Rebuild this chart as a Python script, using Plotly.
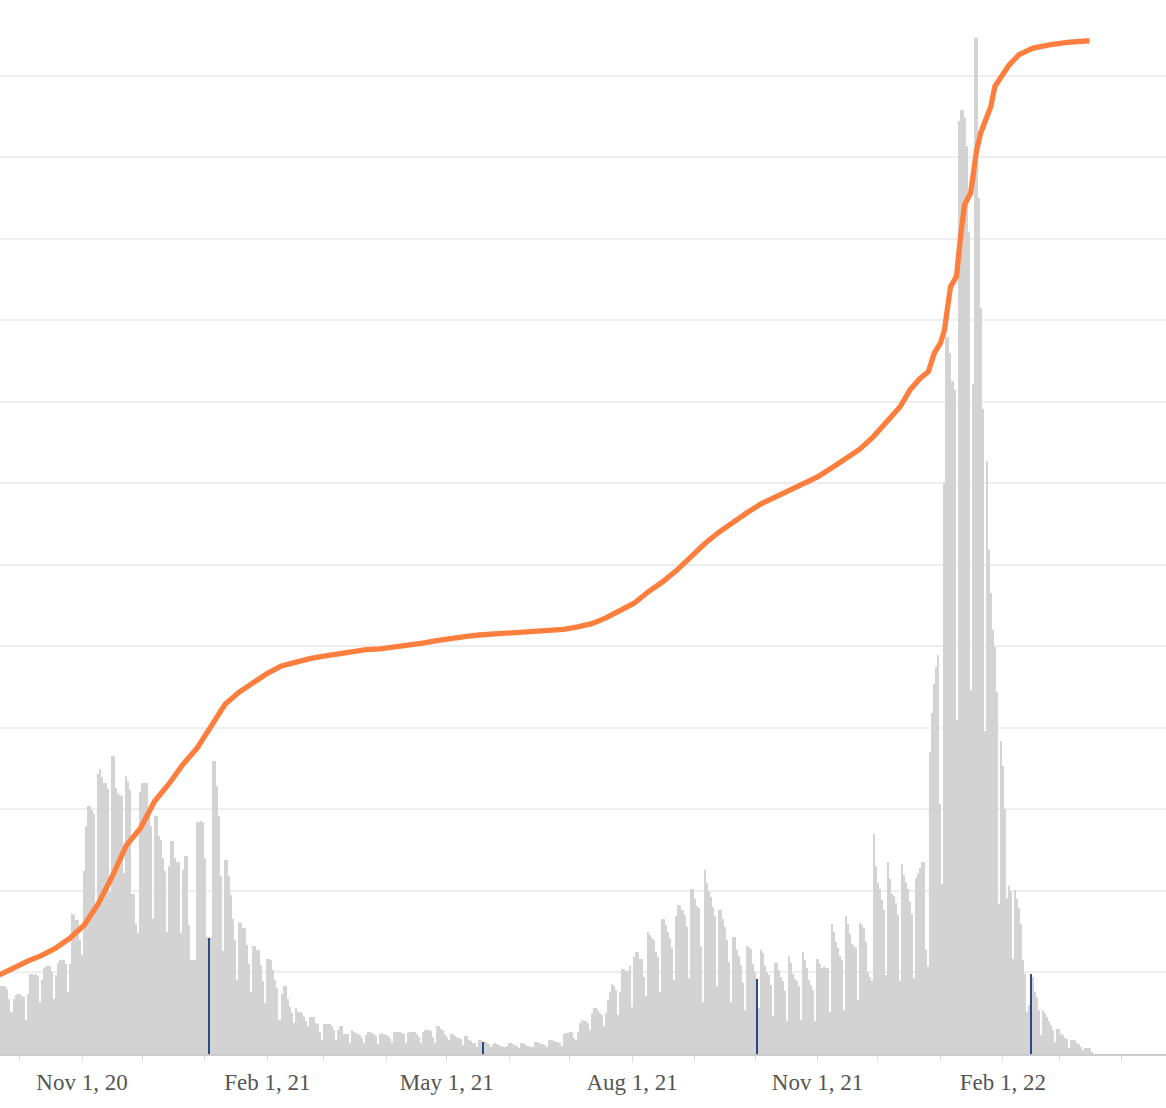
import pandas as pd
import plotly.graph_objects as go

START_DATE = "2020-09-21"

# daily reported values, one row per week (Mon..Sun), starting Mon Sep 21 2020
daily_values = [
    58, 83, 83, 83, 80, 68, 52,
    68, 72, 74, 74, 71, 70, 42,
    74, 98, 98, 97, 98, 96, 64,
    91, 105, 108, 108, 108, 100, 67,
    97, 112, 115, 115, 115, 110, 76,
    110, 172, 170, 164, 164, 140, 121,
    224, 280, 304, 304, 299, 295, 184,
    344, 350, 340, 333, 333, 325, 199,
    366, 366, 326, 320, 318, 316, 222,
    341, 335, 324, 196, 196, 160, 148,
    322, 333, 333, 333, 303, 280, 166,
    292, 292, 267, 262, 240, 224, 150,
    231, 261, 261, 241, 236, 236, 149,
    226, 243, 243, 158, 115, 115, 115,
    285, 285, 286, 284, 240, 144, 142,
    144, 359, 359, 329, 292, 218, 126,
    238, 238, 218, 195, 166, 140, 91,
    161, 161, 154, 154, 134, 110, 76,
    132, 132, 128, 128, 109, 90, 62,
    117, 117, 115, 103, 91, 81, 42,
    74, 83, 83, 68, 58, 50, 38,
    56, 52, 52, 50, 46, 40, 34,
    46, 46, 45, 38, 37, 27, 17,
    37, 37, 37, 37, 34, 30, 17,
    29, 34, 34, 25, 25, 25, 14,
    29, 27, 26, 25, 23, 20, 13,
    23, 27, 27, 26, 24, 22, 12,
    25, 26, 25, 23, 22, 20, 14,
    27, 27, 27, 27, 26, 24, 13,
    26, 27, 27, 27, 25, 21, 13,
    27, 29, 30, 29, 28, 21, 14,
    34, 34, 31, 29, 25, 21, 17,
    24, 24, 22, 21, 20, 19, 11,
    22, 22, 17, 16, 14, 13, 9,
    17, 17, 15, 15, 14, 12, 8,
    12, 13, 12, 11, 10, 9, 8,
    10, 14, 14, 12, 11, 10, 7,
    14, 14, 12, 10, 10, 9, 8,
    15, 15, 14, 12, 12, 11, 9,
    17, 17, 16, 15, 15, 14, 10,
    25, 26, 26, 27, 27, 20, 17,
    27, 38, 42, 41, 40, 38, 29,
    50, 56, 56, 54, 50, 48, 34,
    50, 66, 76, 86, 84, 79, 48,
    76, 104, 104, 102, 102, 108, 58,
    119, 125, 125, 117, 117, 95, 71,
    150, 146, 142, 140, 125, 119, 76,
    166, 166, 158, 150, 142, 130, 91,
    169, 183, 183, 177, 170, 156, 93,
    203, 203, 190, 182, 179, 132, 64,
    226, 210, 200, 192, 180, 169, 83,
    177, 177, 166, 156, 140, 113, 64,
    144, 144, 128, 120, 109, 87, 54,
    133, 131, 129, 111, 100, 92, 56,
    128, 124, 108, 100, 97, 85, 47,
    112, 112, 103, 95, 89, 77, 40,
    120, 112, 98, 92, 89, 83, 42,
    125, 115, 105, 91, 85, 79, 40,
    117, 110, 105, 108, 106, 105, 52,
    159, 150, 137, 130, 120, 115, 54,
    169, 160, 147, 135, 132, 130, 66,
    161, 158, 155, 138, 101, 95, 89,
    270, 231, 210, 203, 189, 177, 97,
    235, 215, 196, 194, 185, 171, 89,
    233, 220, 211, 203, 187, 172, 93,
    216, 222, 228, 235, 235, 128, 108,
    370, 418, 454, 475, 489, 307, 208,
    701, 879, 880, 860, 826, 815, 410,
    1144, 1158, 1158, 1148, 1114, 1009, 446,
    822, 1246, 1246, 1050, 915, 791, 396,
    727, 618, 565, 520, 499, 444, 184,
    384, 353, 300, 191, 206, 200, 117,
    201, 190, 179, 160, 115, 98, 52,
    60, 98, 95, 76, 70, 54, 23,
    54, 50, 46, 40, 36, 30, 15,
    31, 31, 25, 23, 20, 18, 7,
    17, 17, 17, 14, 12, 9, 5,
    7, 7, 7, 3,
]

highlight_dates = ["2021-01-03", "2021-05-19", "2021-10-02", "2022-02-15"]

# running total (orange line)
line_dates = [
    "2020-09-21", "2020-09-28", "2020-10-05", "2020-10-12", "2020-10-19",
    "2020-10-26", "2020-11-02", "2020-11-09", "2020-11-16", "2020-11-23",
    "2020-11-30", "2020-12-07", "2020-12-14", "2020-12-21", "2020-12-28",
    "2021-01-04", "2021-01-11", "2021-01-18", "2021-01-25", "2021-02-01",
    "2021-02-08", "2021-02-15", "2021-02-22", "2021-03-01", "2021-03-08",
    "2021-03-15", "2021-03-22", "2021-03-29", "2021-04-05", "2021-04-12",
    "2021-04-19", "2021-04-26", "2021-05-03", "2021-05-10", "2021-05-17",
    "2021-05-24", "2021-05-31", "2021-06-07", "2021-06-14", "2021-06-21",
    "2021-06-28", "2021-07-05", "2021-07-12", "2021-07-19", "2021-07-26",
    "2021-08-02", "2021-08-09", "2021-08-16", "2021-08-23", "2021-08-30",
    "2021-09-06", "2021-09-13", "2021-09-20", "2021-09-27", "2021-10-04",
    "2021-10-11", "2021-10-18", "2021-10-25", "2021-11-01", "2021-11-08",
    "2021-11-15", "2021-11-22", "2021-11-29", "2021-12-06", "2021-12-12",
    "2021-12-17", "2021-12-22", "2021-12-26", "2021-12-29", "2022-01-01",
    "2022-01-03", "2022-01-06", "2022-01-09", "2022-01-11", "2022-01-13",
    "2022-01-16", "2022-01-19", "2022-01-21", "2022-01-23", "2022-01-26",
    "2022-01-28", "2022-01-31", "2022-02-04", "2022-02-09", "2022-02-16",
    "2022-02-24", "2022-03-05", "2022-03-16",
]
line_values = [
    97, 106, 114, 121, 130,
    142, 158, 184, 218, 256,
    277, 310, 331, 355, 375,
    402, 429, 444, 455, 467,
    476, 481, 485, 488, 491,
    493, 496, 497, 499, 502,
    504, 507, 510, 512, 514,
    515, 517, 518, 519, 520,
    521, 524, 528, 535, 544,
    553, 567, 579, 593, 610,
    626, 640, 653, 664, 675,
    683, 692, 699, 708, 719,
    730, 742, 758, 778, 794,
    815, 829, 837, 860, 872,
    888, 941, 954, 1003, 1042,
    1056, 1109, 1130, 1142, 1162,
    1187, 1199, 1213, 1226, 1234,
    1238, 1241, 1243,
]

tick_dates = ["2020-11-01", "2021-02-01", "2021-05-01", "2021-08-01", "2021-11-01", "2022-02-01"]
tick_labels = ["Nov 1, 20", "Feb 1, 21", "May 1, 21", "Aug 1, 21", "Nov 1, 21", "Feb 1, 22"]

BAR_GRAY = "#d3d3d3"
HIGHLIGHT = "#2b4a85"
ORANGE = "#fe7f3d"

dates = pd.date_range(START_DATE, periods=len(daily_values), freq="D")
marked = set(pd.to_datetime(highlight_dates))
bar_colors = [HIGHLIGHT if d in marked else BAR_GRAY for d in dates]

fig = go.Figure()
fig.add_trace(
    go.Bar(
        x=dates,
        y=daily_values,
        marker={"color": bar_colors, "line": {"width": 0}},
        name="daily",
    )
)
fig.add_trace(
    go.Scatter(
        x=pd.to_datetime(line_dates),
        y=line_values,
        mode="lines",
        line={"color": ORANGE, "width": 5.3},
        yaxis="y2",
        name="total",
    )
)

Y_MAX = 1293
fig.update_layout(
    width=1166,
    height=1108,
    paper_bgcolor="white",
    plot_bgcolor="white",
    showlegend=False,
    bargap=0,
    margin={"l": 0, "r": 0, "t": 0, "b": 54},
    font={"family": "Liberation Serif, Times New Roman, serif", "color": "#555555", "size": 23},
    xaxis={
        "type": "date",
        "range": ["2020-09-21 07:00", "2022-04-22 23:00"],
        "tickmode": "array",
        "tickvals": tick_dates,
        "ticktext": tick_labels,
        "ticks": "outside",
        "ticklen": 6,
        "tickcolor": "#dddddd",
        "showgrid": False,
        "showline": True,
        "linecolor": "#cccccc",
        "linewidth": 2,
        "automargin": False,
        "minor": {
            "tick0": "2020-10-01",
            "dtick": "M1",
            "ticks": "outside",
            "ticklen": 6,
            "tickcolor": "#dddddd",
            "showgrid": False,
        },
    },
    yaxis={
        "range": [0, Y_MAX],
        "dtick": 100,
        "showticklabels": False,
        "showgrid": True,
        "gridcolor": "#eeeeee",
        "gridwidth": 1.5,
        "zeroline": False,
        "automargin": False,
    },
    yaxis2={
        "range": [0, Y_MAX],
        "overlaying": "y",
        "visible": False,
        "showgrid": False,
    },
)

# page body has a default 8px margin; drop it so the figure sits at the corner
fig.write_html(
    "out.html",
    config={"displayModeBar": False},
    post_script="document.body.style.margin='0';document.body.style.padding='0';",
)
